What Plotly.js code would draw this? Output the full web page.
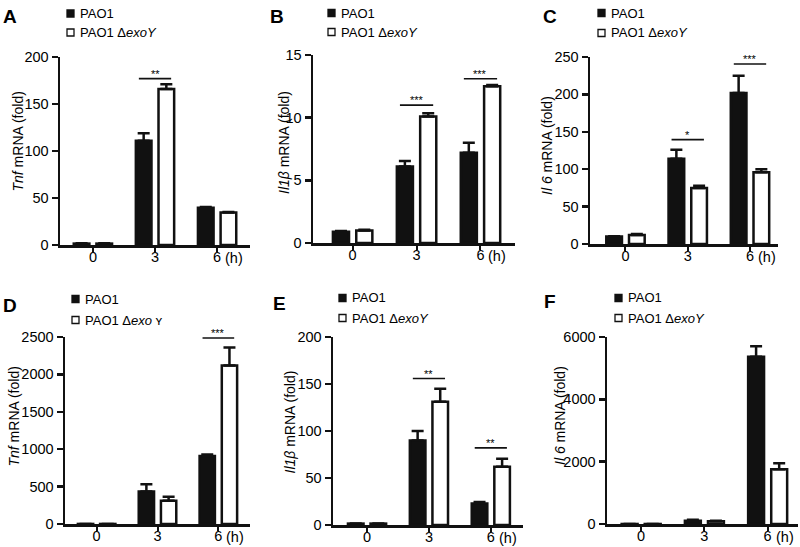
<!DOCTYPE html>
<html>
<head>
<meta charset="utf-8">
<script src="https://cdn.plot.ly/plotly-3.0.1.min.js"></script>
<style>html,body{margin:0;padding:0;background:#fff;}#chart{width:800px;height:547px;}</style>
</head>
<body>
<div id="chart"></div>
<script>
// ---------- data ----------
const timeIndex = [0, 1, 2];
const timeLabels = ['0', '3', '6'];
const seriesNames = ['PAO1', 'PAO1 Δ<i>exoY</i>'];

// Panel A: Tnf
const tnfA_PAO1 = [1.5, 111, 39.5];
const tnfA_PAO1Err = [0.3, 8, 0.8];
const tnfA_exoY = [1.5, 166, 34.5];
const tnfA_exoYErr = [0.3, 5, 0.5];
const sigA_pos = [1];
const sigA_val = [177];
const sigA_text = ['**'];
const ticksA = [0, 50, 100, 150, 200];

// Panel B: Il1b
const il1bB_PAO1 = [0.9, 6.1, 7.2];
const il1bB_PAO1Err = [0.05, 0.45, 0.8];
const il1bB_exoY = [1.0, 10.1, 12.5];
const il1bB_exoYErr = [0.05, 0.25, 0.1];
const sigB_pos = [1, 2];
const sigB_val = [11.0, 13.1];
const sigB_text = ['***', '***'];
const ticksB = [0, 5, 10, 15];

// Panel C: Il6
const il6C_PAO1 = [10, 114, 202];
const il6C_PAO1Err = [0.5, 12, 23];
const il6C_exoY = [12, 75, 96];
const il6C_exoYErr = [1.5, 3, 4];
const sigC_pos = [1, 2];
const sigC_val = [139.5, 240.6];
const sigC_text = ['*', '***'];
const ticksC = [0, 50, 100, 150, 200, 250];

// Panel D: Tnf
const tnfD_PAO1 = [1, 435, 910];
const tnfD_PAO1Err = [0, 98, 20];
const tnfD_exoY = [1, 310, 2120];
const tnfD_exoYErr = [0, 53, 240];
const sigD_pos = [2];
const sigD_val = [2487];
const sigD_text = ['***'];
const ticksD = [0, 500, 1000, 1500, 2000, 2500];

// Panel E: Il1b
const il1bE_PAO1 = [1.5, 90, 23];
const il1bE_PAO1Err = [0.2, 10, 1.5];
const il1bE_exoY = [1.5, 131, 62];
const il1bE_exoYErr = [0.2, 14, 8.5];
const sigE_pos = [1, 2];
const sigE_val = [155.8, 82.1];
const sigE_text = ['**', '**'];
const ticksE = [0, 50, 100, 150, 200];

// Panel F: Il6
const il6F_PAO1 = [1, 105, 5370];
const il6F_PAO1Err = [0, 30, 330];
const il6F_exoY = [1, 85, 1760];
const il6F_exoYErr = [0, 20, 190];
const sigF_pos = [2];
const sigF_val = [6140];
const sigF_text = ['***'];
const ticksF = [0, 2000, 4000, 6000];

// ---------- layout config (pixels) ----------
const W = 800, H = 547;
const FONT = 'Liberation Sans, Arial, Helvetica, sans-serif';
const panels = [
  {label:'A', ytitle:'<i>Tnf</i> mRNA (fold)', leg2:'PAO1 Δ<i>exoY</i>',
   a:tnfA_PAO1, ae:tnfA_PAO1Err, b:tnfA_exoY, be:tnfA_exoYErr, sp:sigA_pos, sv:sigA_val, st:sigA_text, ticks:ticksA,
   px:[60,250], py:[57,245], xr:[-0.53,2.53], lab:[1,4], leg:[67,13.5,32.5], tt:[17.5,142]},
  {label:'B', ytitle:'<i>Il1β</i> mRNA (fold)', leg2:'PAO1 Δ<i>exoY</i>',
   a:il1bB_PAO1, ae:il1bB_PAO1Err, b:il1bB_exoY, be:il1bB_exoYErr, sp:sigB_pos, sv:sigB_val, st:sigB_text, ticks:ticksB,
   px:[313,515], py:[55,243], xr:[-0.62,2.54], lab:[268,4], leg:[328,13,32], tt:[284,143]},
  {label:'C', ytitle:'<i>Il 6</i> mRNA (fold)', leg2:'PAO1 Δ<i>exoY</i>',
   a:il6C_PAO1, ae:il6C_PAO1Err, b:il6C_exoY, be:il6C_exoYErr, sp:sigC_pos, sv:sigC_val, st:sigC_text, ticks:ticksC,
   px:[590,778], py:[57,244], xr:[-0.57,2.45], lab:[541,4], leg:[598,13,33], tt:[547,146]},
  {label:'D', ytitle:'<i>Tnf</i> mRNA (fold)', leg2:'PAO1 Δ<i>exo</i> ʏ',
   a:tnfD_PAO1, ae:tnfD_PAO1Err, b:tnfD_exoY, be:tnfD_exoYErr, sp:sigD_pos, sv:sigD_val, st:sigD_text, ticks:ticksD,
   px:[65,250], py:[337,524], xr:[-0.52,2.52], lab:[1,293], leg:[72,299,320], tt:[13.5,417]},
  {label:'E', ytitle:'<i>Il1β</i> mRNA (fold)', leg2:'PAO1 Δ<i>exoY</i>',
   a:il1bE_PAO1, ae:il1bE_PAO1Err, b:il1bE_exoY, be:il1bE_exoYErr, sp:sigE_pos, sv:sigE_val, st:sigE_text, ticks:ticksE,
   px:[333,523], py:[337,525], xr:[-0.55,2.52], lab:[271,291], leg:[339,298,318], tt:[289.5,422]},
  {label:'F', ytitle:'<i>Il 6</i> mRNA (fold)', leg2:'PAO1 Δ<i>exoY</i>',
   a:il6F_PAO1, ae:il6F_PAO1Err, b:il6F_exoY, be:il6F_exoYErr, sp:sigF_pos, sv:sigF_val, st:sigF_text, ticks:ticksF,
   px:[607,798], py:[337,524], xr:[-0.54,2.48], lab:[542,289], leg:[615,298,318], tt:[560,416]}
];

const data = [];
const layout = {
  width: W, height: H,
  margin: {l:0, r:0, t:0, b:0},
  paper_bgcolor: '#fff', plot_bgcolor: 'rgba(0,0,0,0)',
  font: {family: FONT, color: '#000', size: 15},
  showlegend: false,
  barmode: 'group', bargap: 0.27, bargroupgap: 0.31,
  annotations: [], shapes: []
};

const BLACK = '#111';
panels.forEach((p, i) => {
  const n = i === 0 ? '' : String(i + 1);
  const xa = 'x' + n, ya = 'y' + n;
  const common = {type:'bar', x: timeIndex, xaxis: xa, yaxis: ya, hoverinfo:'skip', cliponaxis:false};
  data.push(Object.assign({}, common, {
    name: seriesNames[0], y: p.a,
    marker: {color: BLACK, line: {color: BLACK, width: 2.5}},
    error_y: {type:'data', array: p.ae, arrayminus: p.a.map(() => 0), symmetric:false, color: BLACK, thickness: 2.5, width: 6}
  }));
  data.push(Object.assign({}, common, {
    name: seriesNames[1], y: p.b,
    marker: {color: '#fff', line: {color: BLACK, width: 2.5}},
    error_y: {type:'data', array: p.be, arrayminus: p.b.map(() => 0), symmetric:false, color: BLACK, thickness: 2.5, width: 6}
  }));
  // significance brackets
  const sx = [], sy = [];
  p.sp.forEach((c, k) => {
    sx.push(c - 0.26, c + 0.26, null);
    sy.push(p.sv[k], p.sv[k], null);
    layout.annotations.push({xref: xa, yref: ya, x: c, y: p.sv[k], text: p.st[k], showarrow:false,
      xanchor:'center', yanchor:'bottom', yshift: -3, font:{size: 11, color:'#000'}});
  });
  data.push({type:'scatter', mode:'lines', x: sx, y: sy, xaxis: xa, yaxis: ya, cliponaxis:false,
    line:{color: BLACK, width: 1.6}, hoverinfo:'skip', showlegend:false});

  const ymax = p.ticks[p.ticks.length - 1];
  layout['xaxis' + n] = {
    domain: [p.px[0] / W, p.px[1] / W], anchor: ya, range: p.xr,
    tickvals: timeIndex, ticktext: timeLabels, showline: true, linecolor: BLACK, linewidth: 2.5,
    ticks: 'outside', ticklen: 4, tickwidth: 2, tickcolor: BLACK, showgrid: false, zeroline: false,
    ticklabelstandoff: -7,
    tickfont: {size: 14.5, family: FONT, color:'#000'}, fixedrange: true
  };
  layout['yaxis' + n] = {
    domain: [1 - p.py[1] / H, 1 - p.py[0] / H], anchor: xa, range: [0, ymax],
    tickvals: p.ticks, ticktext: p.ticks.map(String), showline: true, linecolor: BLACK, linewidth: 2.5,
    ticks: 'outside', ticklen: 6, tickwidth: 2.5, tickcolor: BLACK, showgrid: false, zeroline: false,
    tickfont: {size: 14.5, family: FONT, color:'#000'}, fixedrange: true
  };
  // y-axis title (rotated), placed as in the reference
  layout.annotations.push({xref:'paper', yref:'paper', x: p.tt[0] / W, y: 1 - p.tt[1] / H, text: p.ytitle,
    textangle: -90, showarrow:false, xanchor:'center', yanchor:'middle', font:{size: 14, color:'#000'}});
  // "(h)" unit next to the last tick label
  layout.annotations.push({xref: xa, yref: ya, x: 2, y: 0, text: '(h)', showarrow:false,
    xanchor:'left', yanchor:'middle', xshift: 6, yshift: -13, font:{size: 14.5, color:'#000'}});
  // panel letter
  layout.annotations.push({xref:'paper', yref:'paper', x: p.lab[0] / W, y: 1 - p.lab[1] / H, text: '<b>' + p.label + '</b>',
    showarrow:false, xanchor:'left', yanchor:'top', font:{size: 19, color:'#000'}});
  // legend: squares + text
  const lx = p.leg[0];
  [p.leg[1], p.leg[2]].forEach((cy, k) => {
    layout.shapes.push({type:'rect', xref:'paper', yref:'paper',
      x0: lx / W, x1: (lx + 7) / W, y0: 1 - (cy + 3.5) / H, y1: 1 - (cy - 3.5) / H,
      line:{color: BLACK, width: 1.3}, fillcolor: k === 0 ? BLACK : '#fff'});
    layout.annotations.push({xref:'paper', yref:'paper', x: (lx + 11) / W, y: 1 - cy / H,
      text: k === 0 ? seriesNames[0] : p.leg2, showarrow:false, xanchor:'left', yanchor:'middle',
      font:{size: 13, color:'#000'}});
  });
});

Plotly.newPlot('chart', data, layout, {staticPlot: true, displayModeBar: false});
</script>
</body>
</html>
